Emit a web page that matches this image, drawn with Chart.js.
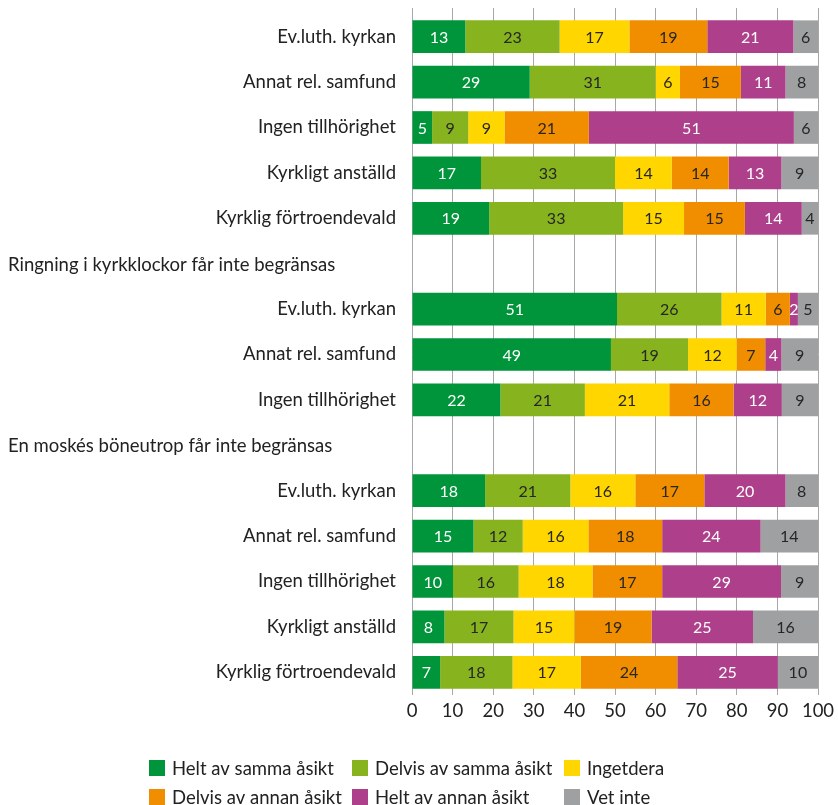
<!DOCTYPE html>
<html>
<head>
<meta charset="utf-8">
<script src="https://cdn.jsdelivr.net/npm/chart.js@4/dist/chart.umd.min.js"></script>
<style>
  html, body { margin: 0; padding: 0; background: #fff; }
</style>
</head>
<body>
<canvas id="chart" width="838" height="805"></canvas>
<script>
// rows, top to bottom; header rows only carry a section title
const categories = [
    'Ev.luth. kyrkan', 'Annat rel. samfund', 'Ingen tillhörighet', 'Kyrkligt anställd', 'Kyrklig förtroendevald',
    'Ringning i kyrkklockor får inte begränsas',
    'Ev.luth. kyrkan', 'Annat rel. samfund', 'Ingen tillhörighet',
    'En moskés böneutrop får inte begränsas',
    'Ev.luth. kyrkan', 'Annat rel. samfund', 'Ingen tillhörighet', 'Kyrkligt anställd', 'Kyrklig förtroendevald'
];
const headerRows = [5, 9];

const seriesNames = ['Helt av samma åsikt', 'Delvis av samma åsikt', 'Ingetdera',
                     'Delvis av annan åsikt', 'Helt av annan åsikt', 'Vet inte'];

const heltSamma   = [13, 29, 5, 17, 19, null, 51, 49, 22, null, 18, 15, 10, 8, 7];
const delvisSamma = [23, 31, 9, 33, 33, null, 26, 19, 21, null, 21, 12, 16, 17, 18];
const ingetdera   = [17, 6, 9, 14, 15, null, 11, 12, 21, null, 16, 16, 18, 15, 17];
const delvisAnnan = [19, 15, 21, 14, 15, null, 6, 7, 16, null, 17, 18, 17, 19, 24];
const heltAnnan   = [21, 11, 51, 13, 14, null, 2, 4, 12, null, 20, 24, 29, 25, 25];
const vetInte     = [6, 8, 6, 9, 4, null, 5, 9, 9, null, 8, 14, 9, 16, 10];

const xTicks = [0, 10, 20, 30, 40, 50, 60, 70, 80, 90, 100];

const seriesValues = [heltSamma, delvisSamma, ingetdera, delvisAnnan, heltAnnan, vetInte];
const colors = ['#00953a', '#87b31f', '#ffd600', '#f18e00', '#ae3f8b', '#9fa0a1'];
const labelColors = ['#ffffff', '#262626', '#262626', '#262626', '#ffffff', '#262626'];

const FONT = 'Lato, "Liberation Sans", sans-serif';
const TEXT = '#222222';
const GRID = '#a8a8a8';

// each row is shown as shares of 100
const rowTotals = categories.map((c, i) => seriesValues.reduce((s, arr) => s + (arr[i] || 0), 0));

const datasets = seriesValues.map((arr, k) => ({
    label: seriesNames[k],
    data: arr.map((v, i) => v === null ? null : v / rowTotals[i] * 100),
    raw: arr,
    backgroundColor: colors[k],
    borderWidth: 0,
    categoryPercentage: 1.0,
    barPercentage: 0.72
}));

// value labels inside segments, section titles, legend
const extras = {
    id: 'extras',
    afterDatasetsDraw(chart) {
        const ctx = chart.ctx;
        ctx.save();
        ctx.font = '16px ' + FONT;
        ctx.textAlign = 'center';
        ctx.textBaseline = 'middle';
        chart.data.datasets.forEach((ds, k) => {
            const meta = chart.getDatasetMeta(k);
            meta.data.forEach((el, i) => {
                const v = ds.raw[i];
                if (v === null) return;
                ctx.fillStyle = labelColors[k];
                ctx.fillText(String(v), (el.x + el.base) / 2, el.y + 1);
            });
        });

        const yScale = chart.scales.y;
        ctx.font = '18.5px ' + FONT;
        ctx.textAlign = 'left';
        ctx.fillStyle = TEXT;
        headerRows.forEach(i => {
            ctx.fillText(categories[i], 8, yScale.getPixelForValue(i) + 1);
        });

        // legend: 3 columns x 2 rows
        const colX = [149, 352, 564];
        const rowY = [768, 797];
        ctx.font = '18.5px ' + FONT;
        seriesNames.forEach((name, k) => {
            const x = colX[k % 3], y = rowY[Math.floor(k / 3)];
            ctx.fillStyle = colors[k];
            ctx.fillRect(x, y - 8, 16, 16);
            ctx.fillStyle = TEXT;
            ctx.fillText(name, x + 23, y + 1);
        });
        ctx.restore();
    }
};

const ctx = document.getElementById('chart').getContext('2d');
new Chart(ctx, {
    type: 'bar',
    data: { labels: categories, datasets: datasets },
    options: {
        indexAxis: 'y',
        responsive: false,
        animation: false,
        layout: { padding: { top: 8, right: 20, bottom: 80, left: 0 } },
        plugins: {
            legend: { display: false },
            tooltip: { enabled: false }
        },
        scales: {
            x: {
                stacked: true,
                min: 0,
                max: 100,
                afterBuildTicks: s => { s.ticks = xTicks.map(v => ({ value: v })); },
                afterFit: s => { s.height = 30; s.paddingLeft = 0; s.paddingRight = 0; },
                grid: { color: GRID, lineWidth: 1, drawTicks: false },
                border: { display: false },
                ticks: { padding: 5, color: TEXT, font: { family: FONT, size: 18.5 } }
            },
            // short stubs of the gridlines above the first bar
            xTop: {
                position: 'top',
                min: 0,
                max: 100,
                afterBuildTicks: s => { s.ticks = xTicks.map(v => ({ value: v })); },
                afterFit: s => { s.height = 6; s.paddingLeft = 0; s.paddingRight = 0; },
                grid: { color: GRID, lineWidth: 1, drawOnChartArea: false, drawTicks: true, tickLength: 6 },
                border: { display: false },
                ticks: { display: false }
            },
            y: {
                stacked: true,
                afterFit: s => { s.width = 412; s.paddingTop = 0; s.paddingBottom = 0; },
                grid: { display: false, drawTicks: false },
                border: { display: false },
                ticks: {
                    padding: 16,
                    autoSkip: false,
                    color: TEXT,
                    font: { family: FONT, size: 18.5 },
                    callback: (v, i) => headerRows.includes(i) ? '' : categories[i]
                }
            }
        }
    },
    plugins: [extras]
});
</script>
</body>
</html>
